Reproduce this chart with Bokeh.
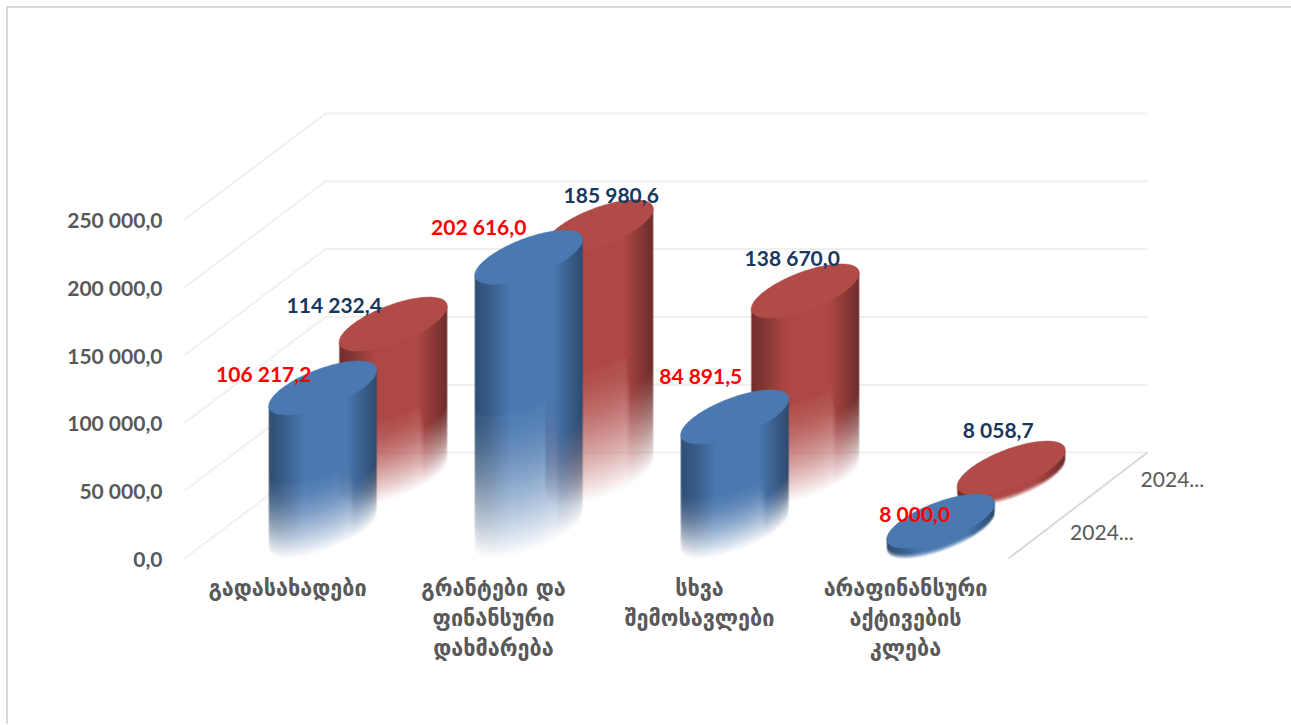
import numpy as np
from bokeh.plotting import figure
from bokeh.models import Range1d, LinearAxis, FixedTicker
from bokeh.core.properties import value
from bokeh.embed import file_html
from bokeh.resources import INLINE

# ---- chart data ----
categories = ["გადასახადები", "გრანტები და\nფინანსური\nდახმარება", "სხვა\nშემოსავლები", "არაფინანსური\nაქტივების\nკლება"]
series_front = [106217.2, 202616.0, 84891.5, 8000.0]
series_back = [114232.4, 185980.6, 138670.0, 8058.7]
labels_front = ["106 217,2", "202 616,0", "84 891,5", "8 000,0"]
labels_back = ["114 232,4", "185 980,6", "138 670,0", "8 058,7"]
y_ticks = [0, 50000, 100000, 150000, 200000, 250000]
y_tick_labels = ["0,0", "50 000,0", "100 000,0", "150 000,0", "200 000,0", "250 000,0"]
depth_labels = ["2024...", "2024..."]

# ---- layout constants (screen pixels) ----
FIG_L, FIG_T, FIG_W, FIG_H = 0, 0, 1291, 724
FRAME_L, FRAME_B = 170, 564
X0_PX, Y0_PX = 184, 558
PX_CAT = 206.0
PX_VAL = 67.8 / 50000
DEPTH_DX, DEPTH_DY = 141.0, 106.0
R = 54.0; VY = 27.0

def xd(px): return (px - X0_PX) / PX_CAT
def yd(py): return (Y0_PX - py) / PX_VAL

p = figure(width=FIG_W, height=FIG_H, output_backend="svg", toolbar_location=None,
           x_range=Range1d(xd(FRAME_L), xd(FIG_L + FIG_W)),
           y_range=Range1d(yd(FRAME_B), yd(FIG_T)),
           x_axis_location=None, y_axis_location=None,
           min_border_left=FRAME_L - FIG_L, min_border_top=0, min_border_right=0,
           min_border_bottom=FIG_T + FIG_H - FRAME_B)
p.outline_line_color = None
p.grid.visible = False
p.background_fill_color = None
p.border_fill_color = None
# Chart-area frame: top and left edges only
p.styles = {"background": "linear-gradient(#d9d9d9,#d9d9d9) 6px 6px / 100% 2px no-repeat, "
                          "linear-gradient(#d9d9d9,#d9d9d9) 6px 6px / 2px 100% no-repeat"}

# Axes
yax = LinearAxis(ticker=FixedTicker(ticks=y_ticks),
                 major_label_overrides=dict(zip(y_ticks, y_tick_labels)))
yax.axis_line_color = None; yax.major_tick_line_color = None; yax.minor_tick_line_color = None
yax.major_label_text_font = "Lato"; yax.major_label_text_font_style = "bold"
yax.major_label_text_font_size = "21px"; yax.major_label_text_color = "#595959"
yax.major_label_standoff = 2
p.add_layout(yax, "left")

xticks = [i + 0.5 for i in range(4)]
xax = LinearAxis(ticker=FixedTicker(ticks=xticks),
                 major_label_overrides=dict(zip(xticks, categories)))
xax.axis_line_color = None; xax.major_tick_line_color = None; xax.minor_tick_line_color = None
xax.major_label_text_font = "DejaVu Sans Condensed"; xax.major_label_text_font_style = "bold"
xax.major_label_text_font_size = "24px"; xax.major_label_text_color = "#595959"
xax.major_label_text_line_height = 1.08
xax.major_label_standoff = 3
p.add_layout(xax, "below")

DC = DEPTH_DX / PX_CAT      # category units per unit of depth
DV = DEPTH_DY / PX_VAL      # value units per unit of depth

# Walls & floor
xs, ys = [], []
for t in y_ticks:
    xs.append([0, DC, DC + 3.99]); ys.append([t, t + DV, t + DV])
p.multi_line(xs, ys, line_color="#f0f0f0", line_width=2)
p.line([4, 3.99 + DC], [0, DV], line_color="#d9d9d9", line_width=2)

# Cylinders
VX = VY * DEPTH_DX / DEPTH_DY
UX = np.sqrt(R**2 - VX**2)
PHI = np.arctan2(VX, UX)
s = np.linspace(np.pi, 2 * np.pi, 300)
ARC_X = R * np.cos(s)
ARC_Y = -VY * np.sin(s + PHI)     # lower arc, screen y downwards
EXT_Y = VY * np.sin(PHI)

U_STOPS = [-1, -0.8, -0.35, 0.45, 0.75, 1]
F_STOPS = [0.65, 0.74, 1.0, 1.0, 0.8, 0.62]

def cylinder(cat, depth, val, base_rgb, cap_hex):
    cx = X0_PX + (cat + 0.5) * PX_CAT + depth * DEPTH_DX
    base_y = Y0_PX - depth * DEPTH_DY
    top_y = base_y - val * PX_VAL
    x0 = int(np.floor(cx - R)) - 1; x1 = int(np.ceil(cx + R)) + 1
    y0 = int(np.floor(top_y - EXT_Y - 1)); y1 = int(np.ceil(base_y + VY)) + 1
    px = np.arange(x0, x1) + 0.5
    py = np.arange(y0, y1) + 0.5
    PX, PY = np.meshgrid(px, py)
    dx = PX - cx
    lower = np.interp(dx, ARC_X, ARC_Y)
    u = np.clip(dx / R, -1, 1)
    f = np.interp(u, U_STOPS, F_STOPS)
    rgb = np.stack([np.clip(base_rgb[i] * f, 0, 255) for i in range(3)], -1)
    H = max(base_y - top_y, 1.0)
    h = (base_y + lower) - PY          # height above lower base arc
    fade = 0.52 * H
    x = np.clip(h / fade, 0, 1)
    a = np.where(h >= fade, 1.0, 0.97 * (1 - (1 - x) ** 1.5))
    strip = np.clip((u - 0.5) / 0.08, 0, 1) * (h < fade)
    a = np.clip(a * (1 + 0.2 * strip), 0, 1)
    a *= np.clip(R - np.abs(dx) + 0.5, 0, 1)
    a *= np.clip(PY - (top_y - EXT_Y * dx / R) + 0.5, 0, 1)
    img = np.zeros(PX.shape + (4,), dtype=np.uint8)
    img[..., :3] = rgb.astype(np.uint8)
    img[..., 3] = (a * 255).astype(np.uint8)
    img = img[::-1]
    p.image_rgba(image=[img.view(np.uint32).reshape(img.shape[:2])],
                 x=[xd(x0)], y=[yd(y1)], dw=[(x1 - x0) / PX_CAT], dh=[(y1 - y0) / PX_VAL])
    t = np.linspace(0, 2 * np.pi, 120)
    cap_x = cx + UX * np.cos(t) + VX * np.sin(t)
    cap_y = top_y - VY * np.sin(t)
    p.patch(xd(cap_x), yd(cap_y), fill_color=cap_hex, line_color=cap_hex, line_width=0.5)
    return xd(cx), yd(top_y)

BLUE, BLUE_CAP = (74, 120, 176), "#4a78b0"
RED, RED_CAP = (174, 72, 69), "#b04b48"
DEPTH_F, DEPTH_B = 0.25, 0.75

tops_b = [cylinder(i, DEPTH_B, v, RED, RED_CAP) for i, v in enumerate(series_back)]
tops_f = [cylinder(i, DEPTH_F, v, BLUE, BLUE_CAP) for i, v in enumerate(series_front)]

# Data labels (offsets from the cap centre, px: right, up)
off_f = [(-59, 14), (-50, 31), (-34, 41), (-26, 8)]
off_b = [(-59, 20), (12, 32), (-13, 33), (-13, 39)]
def lab(tops, labels, offs, color):
    p.text([t[0] for t in tops], [t[1] for t in tops], text=labels,
           x_offset=[o[0] for o in offs], y_offset=[-o[1] for o in offs],
           text_align="center", text_baseline="middle", text_color=color,
           text_font=value("Lato"), text_font_style="bold", text_font_size="21px")
lab(tops_f, labels_front, off_f, "#ff0000")
lab(tops_b, labels_back, off_b, "#17375e")

# Depth axis labels
p.text([4 + DC * DEPTH_F + 0.128, 4 + DC * DEPTH_B + 0.128],
       [DV * DEPTH_F, DV * DEPTH_B], text=depth_labels,
       text_align="left", text_baseline="middle", text_color="#595959",
       text_font=value("Lato"), text_font_size="21px")

open("out.html", "w").write(file_html(p, INLINE))
